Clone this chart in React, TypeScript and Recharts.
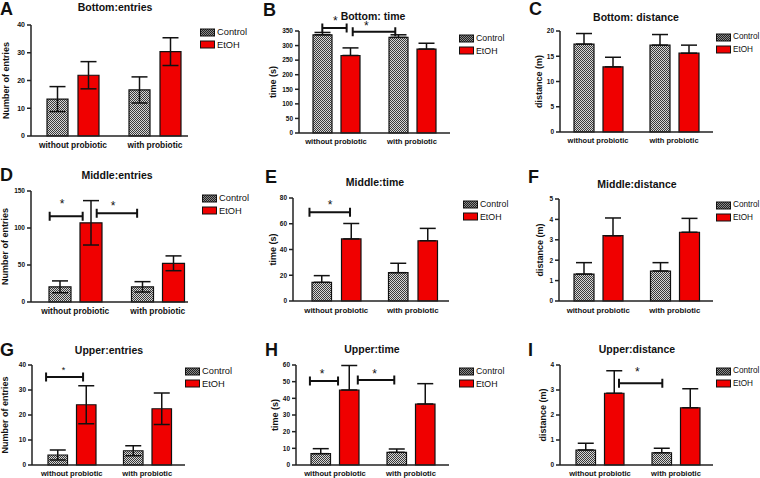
import { BarChart, Bar, XAxis, YAxis, ErrorBar, Legend, ReferenceLine } from 'recharts';

const FONT = '"Liberation Sans", Arial, Helvetica, sans-serif';

const groups = ['without probiotic', 'with probiotic'];
// position of each group on the hidden 0..2 category-unit axis (used for brackets)
const groupCenters = [0.5, 1.5];

// A  Bottom: entries (mean ± SEM)
const bottomEntriesControl = [13.3, 16.6];
const bottomEntriesControlSem = [4.5, 4.7];
const bottomEntriesEtoh = [21.9, 30.4];
const bottomEntriesEtohSem = [4.9, 5.0];

// B  Bottom: time
const bottomTimeControl = [337, 328];
const bottomTimeControlSem = [8, 9];
const bottomTimeEtoh = [266, 288];
const bottomTimeEtohSem = [26, 20];

// C  Bottom: distance
const bottomDistControl = [17.4, 17.2];
const bottomDistControlSem = [2.1, 2.1];
const bottomDistEtoh = [12.9, 15.6];
const bottomDistEtohSem = [1.9, 1.6];

// D  Middle: entries
const middleEntriesControl = [20.5, 20.5];
const middleEntriesControlSem = [8, 7];
const middleEntriesEtoh = [107, 52.3];
const middleEntriesEtohSem = [30, 10];

// E  Middle: time
const middleTimeControl = [14.5, 22];
const middleTimeControlSem = [5.2, 7.3];
const middleTimeEtoh = [48.2, 46.8];
const middleTimeEtohSem = [12, 9.6];

// F  Middle: distance
const middleDistControl = [1.32, 1.47];
const middleDistControlSem = [0.56, 0.41];
const middleDistEtoh = [3.2, 3.37];
const middleDistEtohSem = [0.87, 0.68];

// G  Upper: entries
const upperEntriesControl = [4, 5.7];
const upperEntriesControlSem = [2, 2];
const upperEntriesEtoh = [24.1, 22.5];
const upperEntriesEtohSem = [7.6, 6.3];

// H  Upper: time
const upperTimeControl = [6.8, 7.6];
const upperTimeControlSem = [3, 2];
const upperTimeEtoh = [45, 36.6];
const upperTimeEtohSem = [14.7, 12.2];

// I  Upper: distance
const upperDistControl = [0.6, 0.49];
const upperDistControlSem = [0.27, 0.18];
const upperDistEtoh = [2.87, 2.29];
const upperDistEtohSem = [0.9, 0.76];

// y ticks
const ticksA = [0, 10, 20, 30, 40];
const ticksB = [0, 50, 100, 150, 200, 250, 300, 350];
const ticksC = [0, 5, 10, 15, 20];
const ticksD = [0, 50, 100, 150];
const ticksE = [0, 20, 40, 60, 80];
const ticksF = [0, 1, 2, 3, 4, 5];
const ticksG = [0, 10, 20, 30, 40];
const ticksH = [0, 10, 20, 30, 40, 50, 60];
const ticksI = [0, 1, 2, 3, 4];

// significance brackets: x in category units (0..2), y in data units, star = x of the asterisk
const bracketsB = [{ from: 0.32, to: 0.64, y: 360, star: 0.49 }, { from: 0.72, to: 1.28, y: 347, star: 0.9 }];
const bracketsD = [{ from: 0.19, to: 0.59, y: 116, star: 0.34 }, { from: 0.76, to: 1.25, y: 120, star: 0.96 }];
const bracketsE = [{ from: 0.15, to: 0.68, y: 69, star: 0.42 }];
const bracketsG = [{ from: 0.16, to: 0.65, y: 35.2, star: 0.39 }];
const bracketsH = [{ from: 0.17, to: 0.54, y: 50.4, star: 0.33 }, { from: 0.8, to: 1.28, y: 51, star: 1.02 }];
const bracketsI = [{ from: 0.75, to: 1.32, y: 3.27, star: 0.99 }];

type Bracket = { from: number; to: number; y: number; star: number };

type Panel = {
  letter: string;
  title: string;
  yLabel: string;
  ctrl: number[];
  ctrlErr: number[];
  etoh: number[];
  etohErr: number[];
  ticks: number[];
  brackets: Bracket[];
  twoSided: boolean;
  // layout (page pixels)
  ox: number; oy: number; w: number; h: number;
  L: number; T: number; B: number; R: number; padL: number; padR: number;
  barSize: number; barGap: number; xAxisH: number;
  labelX: number; titleX: number; titleY: number; letterX: number; letterY: number;
  legendX: number; legendY: number; legendFont: number;
  xFont: number; yFont: number; starLift: number[]; starSize: number;
};

const panels: Panel[] = [
  {
    letter: 'A', title: 'Bottom:entries', yLabel: 'Number of entries',
    ctrl: bottomEntriesControl, ctrlErr: bottomEntriesControlSem, etoh: bottomEntriesEtoh, etohErr: bottomEntriesEtohSem,
    ticks: ticksA, brackets: [], twoSided: true,
    ox: 0, oy: 0, w: 250, h: 160, L: 31, T: 25, B: 136, R: 188, padL: 1, padR: -8,
    barSize: 21, barGap: 10, xAxisH: 20,
    labelX: 6, titleX: 115, titleY: 7, letterX: 0, letterY: 0, legendX: 200, legendY: 26, legendFont: 9.3,
    xFont: 8.4, yFont: 7, starLift: [], starSize: 12,
  },
  {
    letter: 'B', title: 'Bottom: time', yLabel: 'time (s)',
    ctrl: bottomTimeControl, ctrlErr: bottomTimeControlSem, etoh: bottomTimeEtoh, etohErr: bottomTimeEtohSem,
    ticks: ticksB, brackets: bracketsB, twoSided: false,
    ox: 250, oy: 0, w: 250, h: 160, L: 299, T: 31, B: 133, R: 450, padL: -1, padR: 0,
    barSize: 19, barGap: 9, xAxisH: 20,
    labelX: 23, titleX: 373, titleY: 16, letterX: 263, letterY: 1, legendX: 459, legendY: 32, legendFont: 8.8,
    xFont: 7.6, yFont: 6.5, starLift: [10, 9], starSize: 12,
  },
  {
    letter: 'C', title: 'Bottom: distance', yLabel: 'distance (m)',
    ctrl: bottomDistControl, ctrlErr: bottomDistControlSem, etoh: bottomDistEtoh, etohErr: bottomDistEtohSem,
    ticks: ticksC, brackets: [], twoSided: false,
    ox: 500, oy: 0, w: 260, h: 160, L: 560, T: 31, B: 132, R: 713, padL: 0, padR: 1,
    barSize: 20, barGap: 9, xAxisH: 20,
    labelX: 39, titleX: 636, titleY: 17, letterX: 529, letterY: 0, legendX: 716, legendY: 31, legendFont: 8.2,
    xFont: 7.5, yFont: 6.5, starLift: [], starSize: 12,
  },
  {
    letter: 'D', title: 'Middle:entries', yLabel: 'Number of entries',
    ctrl: middleEntriesControl, ctrlErr: middleEntriesControlSem, etoh: middleEntriesEtoh, etohErr: middleEntriesEtohSem,
    ticks: ticksD, brackets: bracketsD, twoSided: true,
    ox: 0, oy: 160, w: 250, h: 158, L: 31, T: 191, B: 302, R: 188, padL: 3, padR: -11,
    barSize: 22, barGap: 9, xAxisH: 16,
    labelX: 5, titleX: 117, titleY: 175, letterX: 0, letterY: 166, legendX: 202, legendY: 192, legendFont: 9.3,
    xFont: 8.4, yFont: 6.5, starLift: [15, 10], starSize: 12,
  },
  {
    letter: 'E', title: 'Middle:time', yLabel: 'time (s)',
    ctrl: middleTimeControl, ctrlErr: middleTimeControlSem, etoh: middleTimeEtoh, etohErr: middleTimeEtohSem,
    ticks: ticksE, brackets: bracketsE, twoSided: false,
    ox: 250, oy: 160, w: 250, h: 158, L: 293, T: 198, B: 301, R: 449, padL: 5, padR: -2,
    barSize: 19.5, barGap: 10, xAxisH: 16,
    labelX: 23, titleX: 375, titleY: 182, letterX: 265, letterY: 168, legendX: 463, legendY: 198, legendFont: 8.8,
    xFont: 7.9, yFont: 6.5, starLift: [10], starSize: 12,
  },
  {
    letter: 'F', title: 'Middle:distance', yLabel: 'distance (m)',
    ctrl: middleDistControl, ctrlErr: middleDistControlSem, etoh: middleDistEtoh, etohErr: middleDistEtohSem,
    ticks: ticksF, brackets: [], twoSided: false,
    ox: 500, oy: 160, w: 260, h: 158, L: 559, T: 199, B: 301, R: 713, padL: 1, padR: 0,
    barSize: 20, barGap: 9, xAxisH: 16,
    labelX: 40, titleX: 637, titleY: 184, letterX: 528, letterY: 168, legendX: 716, legendY: 199, legendFont: 8.2,
    xFont: 7.8, yFont: 6.5, starLift: [], starSize: 12,
  },
  {
    letter: 'G', title: 'Upper:entries', yLabel: 'Number of entries',
    ctrl: upperEntriesControl, ctrlErr: upperEntriesControlSem, etoh: upperEntriesEtoh, etohErr: upperEntriesEtohSem,
    ticks: ticksG, brackets: bracketsG, twoSided: true,
    ox: 0, oy: 318, w: 250, h: 160, L: 32, T: 365, B: 465, R: 185, padL: 2, padR: 0,
    barSize: 19.5, barGap: 9, xAxisH: 13,
    labelX: 5, titleX: 109, titleY: 350, letterX: 0, letterY: 341, legendX: 185, legendY: 365, legendFont: 9.3,
    xFont: 7.6, yFont: 6.5, starLift: [9], starSize: 9,
  },
  {
    letter: 'H', title: 'Upper:time', yLabel: 'time (s)',
    ctrl: upperTimeControl, ctrlErr: upperTimeControlSem, etoh: upperTimeEtoh, etohErr: upperTimeEtohSem,
    ticks: ticksH, brackets: bracketsH, twoSided: false,
    ox: 250, oy: 318, w: 250, h: 160, L: 296, T: 365, B: 465, R: 449, padL: 1, padR: 0,
    barSize: 19.5, barGap: 9, xAxisH: 13,
    labelX: 25, titleX: 372, titleY: 349, letterX: 265, letterY: 341, legendX: 459, legendY: 365, legendFont: 8.8,
    xFont: 7.6, yFont: 6.5, starLift: [10, 9], starSize: 12,
  },
  {
    letter: 'I', title: 'Upper:distance', yLabel: 'distance (m)',
    ctrl: upperDistControl, ctrlErr: upperDistControlSem, etoh: upperDistEtoh, etohErr: upperDistEtohSem,
    ticks: ticksI, brackets: bracketsI, twoSided: false,
    ox: 500, oy: 318, w: 260, h: 160, L: 560, T: 365, B: 465, R: 713, padL: 2, padR: -1,
    barSize: 19.5, barGap: 9, xAxisH: 13,
    labelX: 43, titleX: 637, titleY: 349, letterX: 528, letterY: 341, legendX: 716, legendY: 365, legendFont: 8.2,
    xFont: 7.6, yFont: 6.5, starLift: [14], starSize: 12,
  },
];

// bracket with end caps and an asterisk; starT = asterisk position as a fraction along the bracket
const bracketShape = (lift: number, size: number, starT: number) => (props: any) => {
  const { x1, y1, x2 } = props;
  const cap = 4.5;
  return (
    <g>
      <path
        d={`M${x1},${y1 - cap}V${y1 + cap}M${x1},${y1}H${x2}M${x2},${y1 - cap}V${y1 + cap}`}
        stroke="#111"
        strokeWidth={2}
        fill="none"
      />
      <text
        x={x1 + (x2 - x1) * starT}
        y={y1 - lift + size * 0.57}
        textAnchor="middle"
        fontSize={size}
        fontFamily={FONT}
        fill="#111"
      >
        *
      </text>
    </g>
  );
};

const makeLegend = (fontSize: number) => (props: any) => (
  <div style={{ fontFamily: FONT, fontSize, color: '#111', lineHeight: '12.5px' }}>
    {(props.payload || []).map((e: any) => (
      <div key={e.value} style={{ display: 'flex', alignItems: 'center', whiteSpace: 'nowrap' }}>
        <svg width={15} height={9} style={{ marginRight: 2 }}>
          <rect
            x={0.5}
            y={1}
            width={14}
            height={7}
            fill={e.value === 'Control' ? 'url(#checkerDark)' : e.color}
            stroke="#111"
            strokeWidth={1}
          />
        </svg>
        {e.value}
      </div>
    ))}
  </div>
);

function PanelChart({ p }: { p: Panel }) {
  const data = groups.map((g, i) => ({
    group: g,
    pos: groupCenters[i],
    ctrl: p.ctrl[i],
    ctrlErr: p.twoSided ? p.ctrlErr[i] : [0, p.ctrlErr[i]],
    etoh: p.etoh[i],
    etohErr: p.twoSided ? p.etohErr[i] : [0, p.etohErr[i]],
  }));
  const yMax = p.ticks[p.ticks.length - 1];
  const margin = {
    top: p.T - p.oy,
    left: 0,
    right: p.ox + p.w - p.R,
    bottom: p.oy + p.h - p.B - p.xAxisH,
  };
  const axisStroke = { stroke: '#222', strokeWidth: 1.5 };

  return (
    <div style={{ position: 'absolute', left: p.ox, top: p.oy }}>
      <BarChart width={p.w} height={p.h} data={data} margin={margin} barSize={p.barSize} barGap={p.barGap}>
        <XAxis
          dataKey="group"
          height={p.xAxisH}
          interval={0}
          padding={{ left: p.padL, right: p.padR }}
          tickLine={false}
          tickSize={4}
          tickMargin={2}
          axisLine={axisStroke}
          tick={{ fontSize: p.xFont, fontWeight: 'bold', fill: '#111', fontFamily: FONT }}
        />
        <XAxis
          xAxisId="u"
          dataKey="pos"
          type="number"
          domain={[0, 2]}
          allowDataOverflow
          hide
          padding={{ left: p.padL, right: p.padR }}
        />
        <YAxis
          width={p.L - p.ox}
          domain={[0, yMax]}
          ticks={p.ticks}
          interval={0}
          tickSize={4}
          tickMargin={2}
          axisLine={axisStroke}
          tickLine={axisStroke}
          tick={{ fontSize: p.yFont, fontWeight: 'bold', fill: '#111', fontFamily: FONT }}
          label={{
            value: p.yLabel,
            angle: -90,
            position: 'insideLeft',
            offset: p.labelX,
            style: { textAnchor: 'middle' },
            fontSize: 9,
            fontWeight: 'bold',
            fill: '#111',
            fontFamily: FONT,
          }}
        />
        <Legend
          layout="vertical"
          align="center"
          verticalAlign="middle"
          content={makeLegend(p.legendFont)}
          wrapperStyle={{ left: p.legendX - p.ox, top: p.legendY - p.oy, width: 'auto', height: 'auto' }}
        />
        <Bar dataKey="ctrl" name="Control" fill="url(#checker)" stroke="#111" strokeWidth={1.2} isAnimationActive={false}>
          <ErrorBar dataKey="ctrlErr" direction="y" width={8} stroke="#111" strokeWidth={1.5} />
        </Bar>
        <Bar dataKey="etoh" name="EtOH" fill="#f00000" stroke="#111" strokeWidth={1.2} isAnimationActive={false}>
          <ErrorBar dataKey="etohErr" direction="y" width={8} stroke="#111" strokeWidth={1.5} />
        </Bar>
        {p.brackets.map((b, i) => (
          <ReferenceLine
            key={i}
            xAxisId="u"
            segment={[{ x: b.from, y: b.y }, { x: b.to, y: b.y }]}
            ifOverflow="visible"
            shape={bracketShape(p.starLift[i], p.starSize, (b.star - b.from) / (b.to - b.from))}
          />
        ))}
      </BarChart>
    </div>
  );
}

export default function App() {
  return (
    <div
      style={{
        position: 'absolute',
        left: 0,
        top: 0,
        width: 760,
        height: 478,
        overflow: 'hidden',
        background: '#fff',
        fontFamily: FONT,
      }}
    >
      <svg width={0} height={0} style={{ position: 'absolute' }}>
        <defs>
          <pattern id="checker" width={2} height={2} patternUnits="userSpaceOnUse">
            <rect width={2} height={2} fill="#d6d6d6" />
            <rect width={1} height={1} fill="#3a3a3a" />
            <rect x={1} y={1} width={1} height={1} fill="#3a3a3a" />
          </pattern>
          <pattern id="checkerDark" width={2} height={2} patternUnits="userSpaceOnUse">
            <rect width={2} height={2} fill="#8a8a8a" />
            <rect width={1} height={1} fill="#222" />
            <rect x={1} y={1} width={1} height={1} fill="#222" />
          </pattern>
        </defs>
      </svg>
      {panels.map((p) => (
        <PanelChart key={p.letter} p={p} />
      ))}
      {panels.map((p) => (
        <div key={'t' + p.letter}>
          <div
            style={{
              position: 'absolute',
              left: p.titleX,
              top: p.titleY,
              transform: 'translate(-50%, -50%)',
              fontSize: 10.5,
              fontWeight: 'bold',
              lineHeight: 1,
              whiteSpace: 'nowrap',
              color: '#111',
            }}
          >
            {p.title}
          </div>
          <div
            style={{
              position: 'absolute',
              left: p.letterX,
              top: p.letterY,
              fontSize: 18,
              fontWeight: 'bold',
              lineHeight: 1,
              color: '#111',
            }}
          >
            {p.letter}
          </div>
        </div>
      ))}
    </div>
  );
}
